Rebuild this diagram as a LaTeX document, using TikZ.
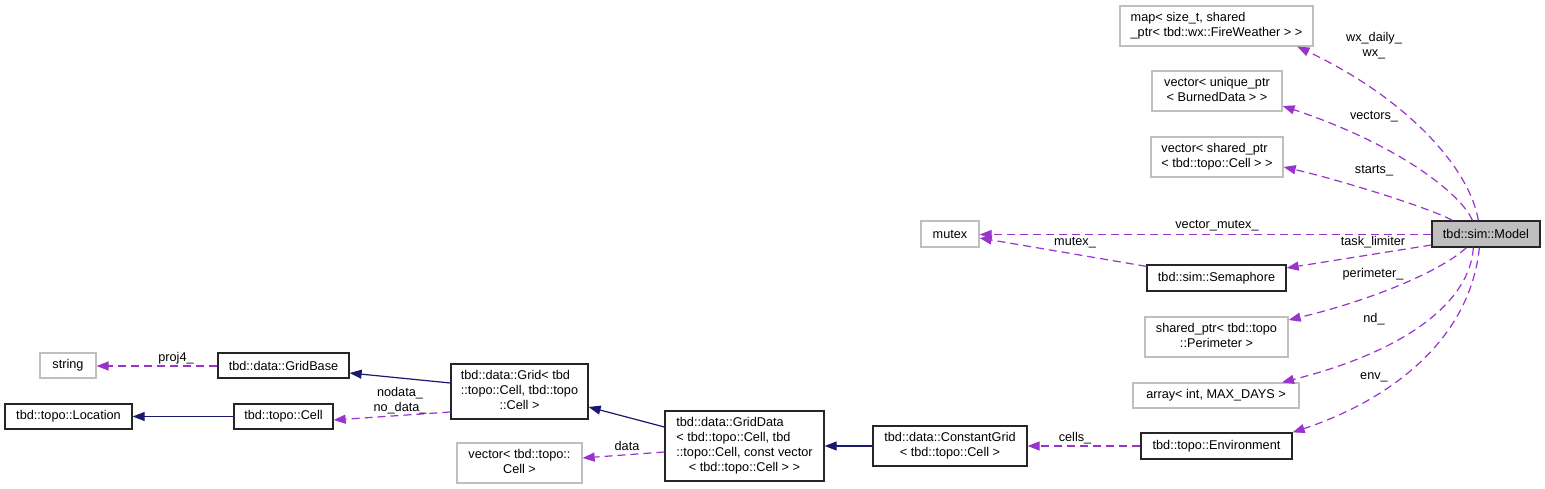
\documentclass[tikz,border=0pt]{standalone}
\usepackage{fontspec}
\setmainfont{Liberation Sans}
\usetikzlibrary{arrows.meta}
\definecolor{edgep}{HTML}{9A32CD}
\definecolor{edgen}{HTML}{191970}
\definecolor{grayb}{HTML}{BFBFBF}
\newcommand{\twol}[2]{\begin{tabular}{@{}l@{}}#1\\\multicolumn{1}{@{}c@{}}{#2}\end{tabular}}
\newcommand{\threel}[3]{\begin{tabular}{@{}l@{}}#1\\#2\\\multicolumn{1}{@{}c@{}}{#3}\end{tabular}}
\newcommand{\fourl}[4]{\begin{tabular}{@{}l@{}}#1\\#2\\#3\\\multicolumn{1}{@{}c@{}}{#4}\end{tabular}}
\begin{document}
\begin{tikzpicture}[x=1pt,y=-1pt,
  font=\fontsize{12.7}{15}\selectfont,
  bx/.style={draw=black!85, line width=1.3pt, inner sep=0pt, align=center},
  gbx/.style={draw=grayb, line width=1.3pt, inner sep=0pt, align=center},
  dep/.style={draw=edgep, line width=1.2pt, dash pattern=on 8pt off 5pt, -{Triangle[length=12pt,width=9pt]}},
  inh/.style={draw=edgen, line width=1.2pt, -{Triangle[length=12pt,width=9pt]}},
  lbl/.style={inner sep=0pt, align=center}]
\fill[white] (0,0) rectangle (1545,489);
\useasboundingbox (0,0) rectangle (1545,489);

% nodes
\node[gbx, minimum width=193pt, minimum height=40pt] (map) at (1216.5,26) {\twol{map< size\_t, shared}{\_ptr< tbd::wx::FireWeather > >}};
\node[gbx, minimum width=130pt, minimum height=40pt] (vecU) at (1217,91) {\twol{vector< unique\_ptr}{< BurnedData > >}};
\node[gbx, minimum width=132pt, minimum height=40pt] (vecS) at (1217,157) {\twol{vector< shared\_ptr}{< tbd::topo::Cell > >}};
\node[gbx, minimum width=58pt, minimum height=26pt] (mutex) at (950,234) {mutex};
\node[bx, fill=grayb, minimum width=108pt, minimum height=26pt] (model) at (1486,234) {tbd::sim::Model};
\node[bx, minimum width=139pt, minimum height=26pt] (sema) at (1216.5,278) {tbd::sim::Semaphore};
\node[gbx, minimum width=143pt, minimum height=40pt] (shptr) at (1216.5,337) {\twol{shared\_ptr< tbd::topo}{::Perimeter >}};
\node[gbx, minimum width=166pt, minimum height=25pt] (arr) at (1216,395.5) {array< int, MAX\_DAYS >};
\node[bx, minimum width=151pt, minimum height=26pt] (env) at (1216.5,446) {tbd::topo::Environment};
\node[bx, minimum width=154pt, minimum height=40pt] (cgrid) at (950,446) {\twol{tbd::data::ConstantGrid}{< tbd::topo::Cell >}};
\node[bx, minimum width=159pt, minimum height=70pt] (gdata) at (744.5,446) {\fourl{tbd::data::GridData}{< tbd::topo::Cell, tbd}{::topo::Cell, const vector}{< tbd::topo::Cell > >}};
\node[gbx, minimum width=125pt, minimum height=40pt] (vecC) at (519.5,463) {\twol{vector< tbd::topo::}{Cell >}};
\node[bx, minimum width=137pt, minimum height=55pt] (grid) at (519.5,391.5) {\threel{tbd::data::Grid< tbd}{::topo::Cell, tbd::topo}{::Cell >}};
\node[bx, minimum width=131pt, minimum height=25pt] (gbase) at (283.5,365.5) {tbd::data::GridBase};
\node[bx, minimum width=99pt, minimum height=25pt] (cell) at (283.5,416.5) {tbd::topo::Cell};
\node[gbx, minimum width=56pt, minimum height=25pt] (str) at (68,365.5) {string};
\node[bx, minimum width=127pt, minimum height=25pt] (loc) at (68.5,416.5) {tbd::topo::Location};

% edges from Model
\draw[dep] ([xshift=47pt]model.north west) .. controls (1470,170) and (1410,100) .. ([xshift=178pt]map.south west);
\draw[dep] ([xshift=41pt]model.north west) .. controls (1462,195) and (1400,145) .. ([yshift=-15pt]vecU.east);
\draw[dep] ([xshift=21pt]model.north west) .. controls (1430,208) and (1340,180) .. ([yshift=-10pt]vecS.east);
\draw[dep] ([yshift=-0.5pt]model.west) -- ([yshift=-0.5pt]mutex.east);
\draw[dep] ([yshift=-11pt]model.west) -- ([yshift=10pt]sema.east);
\draw[dep] ([yshift=-2pt]sema.north west) -- ([yshift=-4pt]mutex.east);
\draw[dep] ([xshift=35pt]model.south west) .. controls (1445,268) and (1380,298) .. ([yshift=17pt]shptr.east);
\draw[dep] ([xshift=42pt]model.south west) .. controls (1470,300) and (1410,350) .. ([xshift=66pt]arr.north);
\draw[dep] ([xshift=48pt]model.south west) .. controls (1470,340) and (1390,400) .. (env.north east);

% left part
\draw[dep] (env.west) -- (cgrid.east);
\draw[inh] (cgrid.west) -- (gdata.east);
\draw[dep] ([yshift=-6pt]gdata.west) -- ([yshift=5pt]vecC.east);
\draw[inh] ([yshift=19pt]gdata.west) -- ([yshift=-15.5pt]grid.east);
\draw[inh] ([yshift=8.5pt]grid.west) -- ([yshift=-7.5pt]gbase.east);
\draw[dep] ([yshift=-20.5pt]grid.west) -- ([yshift=-3.5pt]cell.east);
\draw[dep] ([yshift=-0.5pt]gbase.west) -- ([yshift=-0.5pt]str.east);
\draw[inh] (cell.west) -- (loc.east);

% labels
\node[lbl] (lwx) at (1374,46) {wx\_daily\_\\wx\_};
\node[lbl] (lvec) at (1374,117) {vectors\_};
\node[lbl] (lsta) at (1374,171) {starts\_};
\node[lbl] (lvm) at (1217,226) {vector\_mutex\_};
\node[lbl] (lmu) at (1075,243) {mutex\_};
\node[lbl] (ltl) at (1373,242) {task\_limiter};
\node[lbl] (lper) at (1373,274) {perimeter\_};
\node[lbl] (lnd) at (1374,319) {nd\_};
\node[lbl] (lenv) at (1374,377) {env\_};
\node[lbl] (lcel) at (1075,438) {cells\_};
\node[lbl] (ldat) at (627,446) {data};
\node[lbl] (lnod) at (400,401) {nodata\_\\no\_data\_};
\node[lbl] (lpr) at (176,358) {proj4\_};
\end{tikzpicture}
\end{document}
